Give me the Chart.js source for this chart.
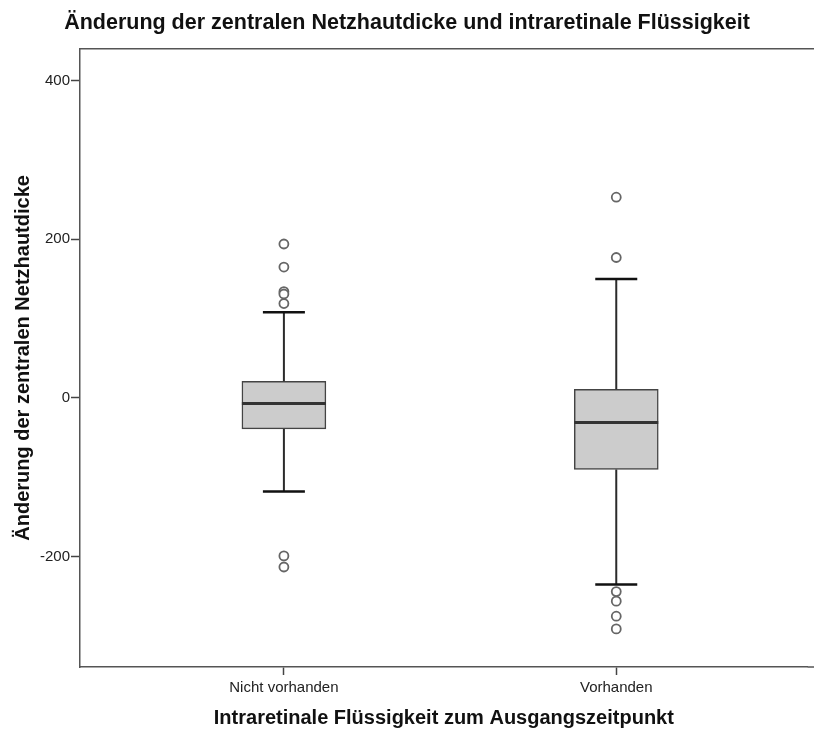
<!DOCTYPE html>
<html>
<head>
<meta charset="utf-8">
<script src="https://cdn.jsdelivr.net/npm/chart.js@4"></script>
<style>
html,body{margin:0;padding:0;background:#fff;}
#wrap{width:814px;height:731px;}
</style>
</head>
<body>
<div id="wrap"><canvas id="c" width="814" height="731"></canvas></div>
<script>
// ---- data ----
const categories = ['Nicht vorhanden', 'Vorhanden'];
const q1 = [-39, -90];
const q3 = [21, 11];
const medians = [-7, -31];
const whiskerLow = [-118, -235];
const whiskerHigh = [108, 150];
const outliersNicht = [194, 165, 134, 131, 119, -199, -213];
const outliersVorhanden = [253, 177, -244, -256, -275, -291];
const yTicks = [-200, 0, 200, 400];
const titleText = 'Änderung der zentralen Netzhautdicke und intraretinale Flüssigkeit';
const xTitle = 'Intraretinale Flüssigkeit zum Ausgangszeitpunkt';
const yTitle = 'Änderung der zentralen Netzhautdicke';

const FONT = "'Liberation Sans', Arial, sans-serif";
const outlierSets = [outliersNicht, outliersVorhanden];

const boxPlugin = {
  id: 'boxWhisker',
  afterDatasetsDraw(chart) {
    const {ctx, scales: {x, y}} = chart;
    const meta = chart.getDatasetMeta(0);
    ctx.save();
    categories.forEach((c, i) => {
      const bar = meta.data[i];
      const cx = x.getPixelForValue(i + 1);
      const half = bar.width / 2;
      const capHalf = bar.width / 4;
      const yq1 = y.getPixelForValue(q1[i]);
      const yq3 = y.getPixelForValue(q3[i]);
      const ylo = y.getPixelForValue(whiskerLow[i]);
      const yhi = y.getPixelForValue(whiskerHigh[i]);
      const ymed = y.getPixelForValue(medians[i]);
      ctx.strokeStyle = '#2b2b2b';
      ctx.lineWidth = 2;
      ctx.beginPath();
      ctx.moveTo(cx, yq3); ctx.lineTo(cx, yhi);
      ctx.moveTo(cx, yq1); ctx.lineTo(cx, ylo);
      ctx.stroke();
      ctx.strokeStyle = '#111';
      ctx.lineWidth = 2.5;
      ctx.beginPath();
      ctx.moveTo(cx - capHalf, yhi); ctx.lineTo(cx + capHalf, yhi);
      ctx.moveTo(cx - capHalf, ylo); ctx.lineTo(cx + capHalf, ylo);
      ctx.stroke();
      ctx.strokeStyle = '#333';
      ctx.lineWidth = 3;
      ctx.beginPath();
      ctx.moveTo(cx - half, ymed); ctx.lineTo(cx + half, ymed);
      ctx.stroke();
    });
    ctx.restore();
  },
  afterDraw(chart) {
    const {ctx, chartArea} = chart;
    ctx.save();
    ctx.strokeStyle = '#555';
    ctx.lineWidth = 1.5;
    ctx.beginPath();
    ctx.moveTo(chartArea.left, chartArea.top);
    ctx.lineTo(chart.width, chartArea.top);
    ctx.moveTo(chartArea.right, chartArea.bottom);
    ctx.lineTo(chart.width, chartArea.bottom);
    ctx.stroke();
    ctx.restore();
  }
};

const datasets = [
  {
    type: 'bar',
    data: categories.map((c, i) => ({x: i + 1, y: [q1[i], q3[i]]})),
    backgroundColor: '#cccccc',
    borderColor: '#444444',
    borderWidth: 1.5,
    borderSkipped: false,
    barThickness: 84,
    order: 2
  }
];
outlierSets.forEach((set, i) => {
  datasets.push({
    type: 'scatter',
    data: set.map(v => ({x: i + 1, y: v})),
    pointRadius: 4.5,
    pointBorderWidth: 1.8,
    pointBorderColor: '#666666',
    pointBackgroundColor: '#ffffff',
    showLine: false,
    order: 1
  });
});

new Chart(document.getElementById('c'), {
  type: 'bar',
  data: {datasets},
  plugins: [boxPlugin],
  options: {
    responsive: false,
    animation: false,
    events: [],
    layout: {padding: 0},
    plugins: {
      legend: {display: false},
      tooltip: {enabled: false},
      title: {
        display: true,
        text: titleText,
        color: '#111',
        font: {family: FONT, size: 21.5, weight: 'bold'},
        padding: {top: 10, bottom: 13}
      }
    },
    scales: {
      x: {
        type: 'linear',
        offset: false,
        min: 0.3865,
        max: 2.576,
        afterBuildTicks: s => { s.ticks = categories.map((c, i) => ({value: i + 1})); },
        afterFit: s => { s.height = 64; s.paddingLeft = 0; s.paddingRight = 0; },
        ticks: {
          callback: (v, idx) => categories[idx],
          color: '#222',
          font: {family: FONT, size: 15},
          padding: 4,
          autoSkip: false,
          maxRotation: 0
        },
        grid: {offset: false, drawOnChartArea: false, drawTicks: true, tickLength: 8, color: '#444', tickWidth: 1.5},
        border: {display: true, color: '#555', width: 1.5},
        title: {
          display: true,
          text: xTitle,
          color: '#111',
          font: {family: FONT, size: 20, weight: 'bold'},
          padding: {top: 0, bottom: 1}
        }
      },
      y: {
        type: 'linear',
        min: -339,
        max: 440,
        afterBuildTicks: s => { s.ticks = yTicks.map(v => ({value: v})); },
        afterFit: s => { s.width = 80; },
        ticks: {
          color: '#222',
          font: {family: FONT, size: 15},
          padding: 1
        },
        grid: {drawOnChartArea: false, drawTicks: true, tickLength: 9, color: '#444', tickWidth: 1.5},
        border: {display: true, color: '#555', width: 1.5},
        title: {
          display: true,
          text: yTitle,
          color: '#111',
          font: {family: FONT, size: 20, weight: 'bold'},
          padding: {top: 11, bottom: 0}
        }
      }
    }
  }
});
</script>
</body>
</html>
